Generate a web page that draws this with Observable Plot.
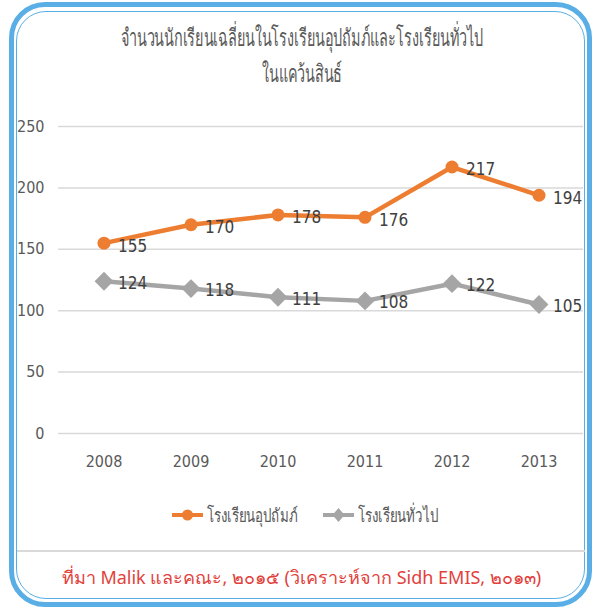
<!DOCTYPE html>
<html>
<head>
<meta charset="utf-8">
<script src="https://cdn.jsdelivr.net/npm/d3@7"></script>
<script src="https://cdn.jsdelivr.net/npm/@observablehq/plot@0.6"></script>
<style>
  html, body { margin: 0; padding: 0; background: #fff; }
  body { width: 603px; height: 608px; position: relative; overflow: hidden;
         font-family: "DejaVu Sans", sans-serif; font-stretch: condensed; }
  .frame-outer { position: absolute; left: 9px; top: 2px; width: 573px; height: 595px;
    border: 5px solid #5aaee6; border-radius: 36px; }
  .frame-inner { position: absolute; left: 16px; top: 11px; width: 567px; height: 586px;
    border: 1.5px solid #5aaee6; border-radius: 30px; }
  .title { position: absolute; left: 0; width: 603px; text-align: center; color: #595959;
    font-size: 24px; line-height: 30px; font-family: "Noto Sans", sans-serif; }
  .title span { display: inline-block; transform: scaleX(0.6); transform-origin: center; white-space: nowrap; }
  #chart { position: absolute; left: 0; top: 100px; }
  .lg { position: absolute; font-size: 19px; color: #595959; font-family: "Noto Sans", sans-serif;
    white-space: nowrap; transform: scaleX(0.7); transform-origin: left center; line-height: 24px; }
  .sep { position: absolute; left: 17px; width: 568px; top: 550px; height: 2px; background: #d9d9d9; }
  .caption { position: absolute; top: 563px; left: 0; width: 603px; text-align: center;
    color: #e2413b; font-size: 18px; font-family: "Noto Sans", "Open Sans", sans-serif; font-stretch: normal; }
</style>
</head>
<body>
<div class="frame-outer"></div>
<div class="frame-inner"></div>
<div class="title" style="top:22px"><span>จำนวนนักเรียนเฉลี่ยนในโรงเรียนอุปถัมภ์และโรงเรียนทั่วไป</span></div>
<div class="title" style="top:58px"><span>ในแคว้นสินธ์</span></div>
<div id="chart"></div>
<svg id="legendsvg" style="position:absolute; left:0; top:505px" width="603" height="22"></svg>
<div class="sep"></div>
<div class="caption">ที่มา Malik และคณะ, ๒๐๑๕ (วิเคราะห์จาก Sidh EMIS, ๒๐๑๓)</div>
<script>
const years = ["2008", "2009", "2010", "2011", "2012", "2013"];
const sponsored = [155, 170, 178, 176, 217, 194];
const general = [124, 118, 111, 108, 122, 105];
const seriesNames = ["โรงเรียนอุปถัมภ์", "โรงเรียนทั่วไป"];
const seriesColors = ["#ed7d31", "#a5a5a5"];
const yTicks = [0, 50, 100, 150, 200, 250];

const rows = [];
years.forEach((y, i) => {
  rows.push({year: y, value: sponsored[i], series: seriesNames[0]});
  rows.push({year: y, value: general[i], series: seriesNames[1]});
});
const s1 = rows.filter(d => d.series === seriesNames[0]);
const s2 = rows.filter(d => d.series === seriesNames[1]);

const plot = Plot.plot({
  width: 603,
  height: 380,
  marginLeft: 58,
  marginRight: 20,
  marginTop: 26,
  marginBottom: 47,
  style: {fontFamily: '"DejaVu Sans", sans-serif', fontStretch: "condensed", fontSize: "16px", color: "#595959", background: "transparent"},
  x: {type: "band", domain: years, padding: 0, label: null},
  y: {domain: [0, 250], label: null},
  marks: [
    Plot.ruleY(yTicks, {stroke: "#d9d9d9", strokeWidth: 1.5}),
    Plot.axisY({ticks: yTicks, tickSize: 0, tickPadding: 14, label: null, fontSize: 16}),
    Plot.axisX({tickSize: 0, tickPadding: 22, label: null, fontSize: 16}),
    Plot.line(s2, {x: "year", y: "value", stroke: seriesColors[1], strokeWidth: 4.5}),
    Plot.dot(s2, {x: "year", y: "value", symbol: "diamond2", r: 8.5, fill: seriesColors[1], stroke: "none"}),
    Plot.line(s1, {x: "year", y: "value", stroke: seriesColors[0], strokeWidth: 4.5}),
    Plot.dot(s1, {x: "year", y: "value", symbol: "circle", r: 6.5, fill: seriesColors[0], stroke: "none"}),
    Plot.text(s1, {x: "year", y: "value", text: d => String(d.value), dx: 14, dy: 3, textAnchor: "start", fill: "#404040", fontSize: 17}),
    Plot.text(s2, {x: "year", y: "value", text: d => String(d.value), dx: 14, dy: 2, textAnchor: "start", fill: "#404040", fontSize: 17})
  ]
});
document.getElementById("chart").appendChild(plot);

// legend: marker swatches in SVG, labels as HTML text
const lsvg = d3.select("#legendsvg");
const legendPos = [{x: 172, tx: 207}, {x: 323, tx: 358}];
seriesNames.forEach((name, i) => {
  const p = legendPos[i];
  lsvg.append("line").attr("x1", p.x).attr("x2", p.x + 31).attr("y1", 10).attr("y2", 10)
    .attr("stroke", seriesColors[i]).attr("stroke-width", 4);
  if (i === 0) {
    lsvg.append("circle").attr("cx", p.x + 15.5).attr("cy", 10).attr("r", 5.5).attr("fill", seriesColors[i]);
  } else {
    const c = p.x + 15.5;
    lsvg.append("path").attr("d", `M${c},3 L${c+6},10 L${c},17 L${c-6},10 Z`).attr("fill", seriesColors[i]);
  }
  const div = document.createElement("div");
  div.className = "lg";
  div.style.left = p.tx + "px";
  div.style.top = "503px";
  div.textContent = name;
  document.body.appendChild(div);
});
</script>
</body>
</html>
